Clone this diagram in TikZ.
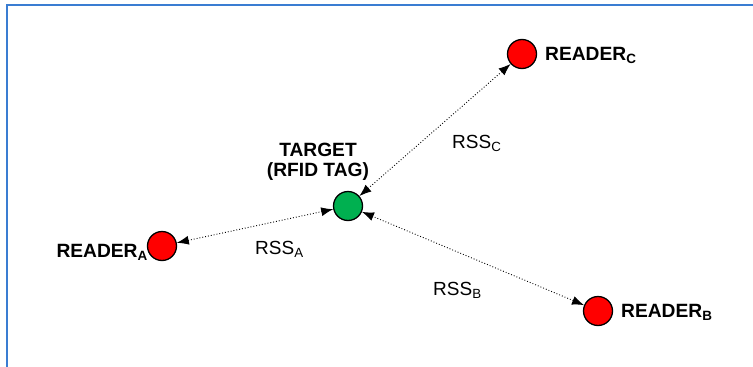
\documentclass[tikz,border=0pt]{standalone}
\usepackage{fontspec}
\setmainfont{Liberation Sans}
\usetikzlibrary{arrows.meta}
\definecolor{framecol}{RGB}{58,125,210}
\definecolor{tagcol}{RGB}{0,176,80}
\definecolor{readercol}{RGB}{255,0,0}
\tikzset{
  dot/.style={circle, draw=black, line width=1.3pt, minimum size=29pt, inner sep=0pt},
  reader/.style={dot, fill=readercol},
  tag/.style={dot, fill=tagcol},
  lbl/.style={inner sep=0pt, font=\fontsize{19.2}{20.5}\selectfont\bfseries},
  rss/.style={inner sep=0pt, font=\fontsize{19}{20.5}\selectfont},
  link/.style={dotted, line width=0.9pt, {Latex[length=12pt,width=9pt]}-{Latex[length=12pt,width=9pt]}},
  frame/.style={draw=framecol, line width=2pt}
}
\begin{document}
\begin{tikzpicture}[x=1pt,y=-1pt]
\useasboundingbox (0,0) rectangle (753,367);
\draw[frame] (6.7,368) -- (6.7,5.3) -- (754,5.3);
\node[tag] (t) at (348,206) {};
\node[reader] (a) at (162,246) {};
\node[reader] (c) at (522,54) {};
\node[reader] (b) at (598,311) {};
\node[lbl, align=center, anchor=south] (tl) at (318,181) {TARGET\\(RFID TAG)};
\node[lbl, anchor=base east] (la) at (148,257) {READER\textsubscript{A}};
\node[lbl, anchor=base west] (lc) at (545,60) {READER\textsubscript{C}};
\node[lbl, anchor=base west] (lb) at (621,317) {READER\textsubscript{B}};
\node[rss, anchor=base west] (ra) at (255,254) {RSS\textsubscript{A}};
\node[rss, anchor=base west] (rc) at (452,148) {RSS\textsubscript{C}};
\node[rss, anchor=base west] (rb) at (433,295) {RSS\textsubscript{B}};
\draw[link] (a) -- (t);
\draw[link] (c) -- (t);
\draw[link] (b) -- (t);
\end{tikzpicture}
\end{document}
